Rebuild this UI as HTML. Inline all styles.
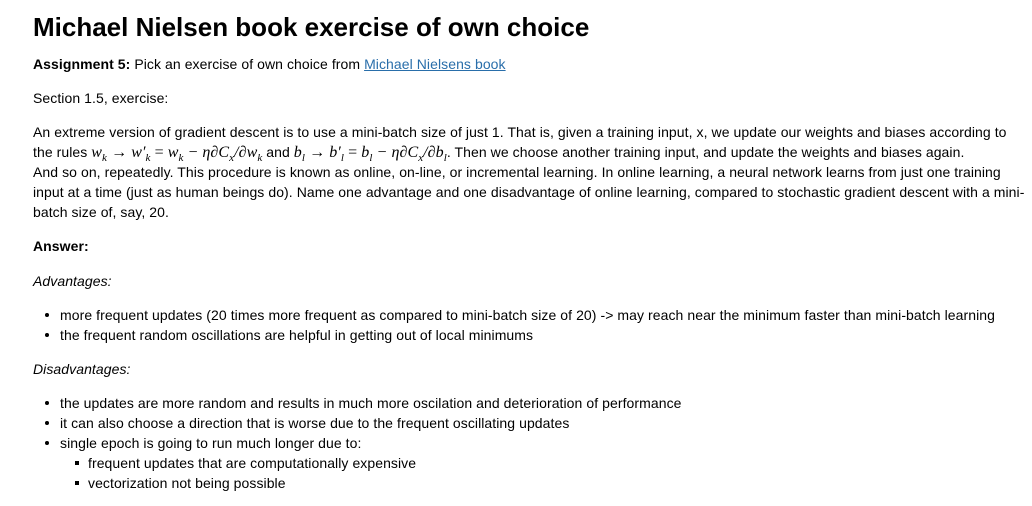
<!DOCTYPE html>
<html><head><meta charset="utf-8"><style>
body{margin:0;width:1032px;height:506px;background:#fff;font-family:"Liberation Sans",Arial,sans-serif;color:#000;position:relative;overflow:hidden}
.l{position:absolute;left:33px;font-size:14px;line-height:20px;white-space:nowrap;letter-spacing:0.07px}
.m{font-family:"Liberation Serif",serif;font-style:italic;font-size:16px}
.b{position:absolute;width:4px;height:4px;border-radius:50%;background:#000}
.s{position:absolute;width:4px;height:4px;background:#000}
a{color:#296eaa;text-decoration:underline}
</style></head><body>
<div class="l" style="top:10px;font-size:26px;line-height:34px;font-weight:bold;letter-spacing:0">Michael Nielsen book exercise of own choice</div>
<div class="l" style="top:54px"><b>Assignment 5:</b> Pick an exercise of own choice from <a>Michael Nielsens book</a></div>
<div class="l" style="top:88px">Section 1.5, exercise:</div>
<div class="l" style="top:122px">An extreme version of gradient descent is to use a mini-batch size of just 1. That is, given a training input, x, we update our weights and biases according to</div>
<div class="l" style="top:142px">the rules <span class="m">w<sub style="font-size:11px">k</sub> → w′<sub style="font-size:11px">k</sub> <span style="font-style:normal">=</span> w<sub style="font-size:11px">k</sub> − η∂C<sub style="font-size:11px">x</sub>/∂w<sub style="font-size:11px">k</sub></span> and <span class="m">b<sub style="font-size:11px">l</sub> → b′<sub style="font-size:11px">l</sub> <span style="font-style:normal">=</span> b<sub style="font-size:11px">l</sub> − η∂C<sub style="font-size:11px">x</sub>/∂b<sub style="font-size:11px">l</sub></span>. Then we choose another training input, and update the weights and biases again.</div>
<div class="l" style="top:162px">And so on, repeatedly. This procedure is known as online, on-line, or incremental learning. In online learning, a neural network learns from just one training</div>
<div class="l" style="top:182px">input at a time (just as human beings do). Name one advantage and one disadvantage of online learning, compared to stochastic gradient descent with a mini-</div>
<div class="l" style="top:202px">batch size of, say, 20.</div>
<div class="l" style="top:236px;font-weight:bold">Answer:</div>
<div class="l" style="top:271px;font-style:italic">Advantages:</div>
<div class="b" style="left:45px;top:313px"></div>
<div class="l" style="top:305px;left:60px">more frequent updates (20 times more frequent as compared to mini-batch size of 20) -&gt; may reach near the minimum faster than mini-batch learning</div>
<div class="b" style="left:45px;top:333px"></div>
<div class="l" style="top:325px;left:60px">the frequent random oscillations are helpful in getting out of local minimums</div>
<div class="l" style="top:359px;font-style:italic">Disadvantages:</div>
<div class="b" style="left:45px;top:401px"></div>
<div class="l" style="top:393px;left:60px">the updates are more random and results in much more oscilation and deterioration of performance</div>
<div class="b" style="left:45px;top:421px"></div>
<div class="l" style="top:413px;left:60px">it can also choose a direction that is worse due to the frequent oscillating updates</div>
<div class="b" style="left:45px;top:441px"></div>
<div class="l" style="top:433px;left:60px">single epoch is going to run much longer due to:</div>
<div class="s" style="left:75px;top:461px"></div>
<div class="l" style="top:453px;left:88px">frequent updates that are computationally expensive</div>
<div class="s" style="left:75px;top:481px"></div>
<div class="l" style="top:473px;left:88px">vectorization not being possible</div>
</body></html>
